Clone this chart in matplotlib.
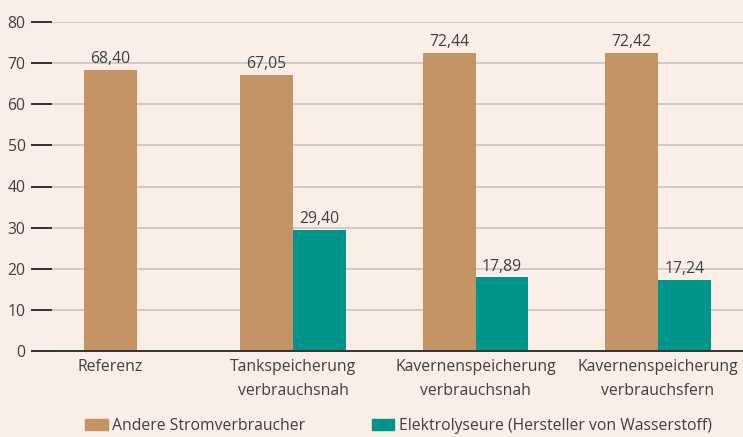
import matplotlib
matplotlib.use('Agg')
import matplotlib.pyplot as plt
import numpy as np
from matplotlib.patches import Patch

# ── data ─────────────────────────────────────────────────────────────────────
categories = ['Referenz', 'Tankspeicherung\nverbrauchsnah',
              'Kavernenspeicherung\nverbrauchsnah', 'Kavernenspeicherung\nverbrauchsfern']
andere = [68.40, 67.05, 72.44, 72.42]
elektrolyse = [None, 29.40, 17.89, 17.24]
series_names = ['Andere Stromverbraucher', 'Elektrolyseure (Hersteller von Wasserstoff)']
yticks = [0, 10, 20, 30, 40, 50, 60, 70, 80]

# ── style ────────────────────────────────────────────────────────────────────
BG = '#FBEEE6'
ORANGE = '#C49464'
TEAL = '#00958A'
TXT = '#404040'
FS = 11.3
plt.rcParams['font.family'] = ['Open Sans', 'DejaVu Sans']


def fmt(v):
    return f'{v:.2f}'.replace('.', ',')


fig = plt.figure(figsize=(7.43, 4.37), dpi=100, facecolor=BG)
ax = fig.add_axes([52 / 743, 1 - 351 / 437, 1 - 52 / 743, 329 / 437])
ax.set_facecolor(BG)

x = np.arange(len(categories))
w = 0.29
for i, (a, e) in enumerate(zip(andere, elektrolyse)):
    if e is None:
        xa = x[i]
    else:
        xa = x[i] - w / 2
        ax.bar(x[i] + w / 2, e, width=w, color=TEAL, zorder=3)
        ax.text(x[i] + w / 2, e + 0.7, fmt(e), ha='center', va='bottom',
                fontsize=FS, color=TXT)
    ax.bar(xa, a, width=w, color=ORANGE, zorder=3)
    ax.text(xa, a + 0.7, fmt(a), ha='center', va='bottom',
            fontsize=FS, color=TXT)

ax.set_xlim((52 - 110.5) / 182.5, (743 - 110.5) / 182.5)
ax.set_ylim(0, 80)
ax.set_yticks(yticks)
ax.set_yticklabels([str(t) for t in yticks], fontsize=FS, color=TXT)
ax.tick_params(axis='y', length=15, width=1.3, color='#222222', pad=4)
ax.set_xticks(x)
ax.set_xticklabels(categories, fontsize=FS, color=TXT, linespacing=1.6)
ax.tick_params(axis='x', length=0, pad=6)

for t in yticks[1:]:
    ax.axhline(t, color='#C8C6C6', linewidth=1.2, zorder=1)
for s in ['top', 'right', 'left']:
    ax.spines[s].set_visible(False)
ax.spines['bottom'].set_color('#333333')
ax.spines['bottom'].set_linewidth(1.4)
ax.spines['bottom'].set_zorder(4)

handles = [Patch(color=ORANGE), Patch(color=TEAL)]
fig.legend(handles, series_names, loc='center left',
           bbox_to_anchor=(85 / 743, 1 - 426 / 437), ncol=2, frameon=False,
           fontsize=FS, handlelength=1.45, handleheight=0.7,
           handletextpad=0.3, columnspacing=4.2, borderpad=0, borderaxespad=0,
           labelcolor=TXT)

fig.savefig('out.png', dpi=100, facecolor=BG)
